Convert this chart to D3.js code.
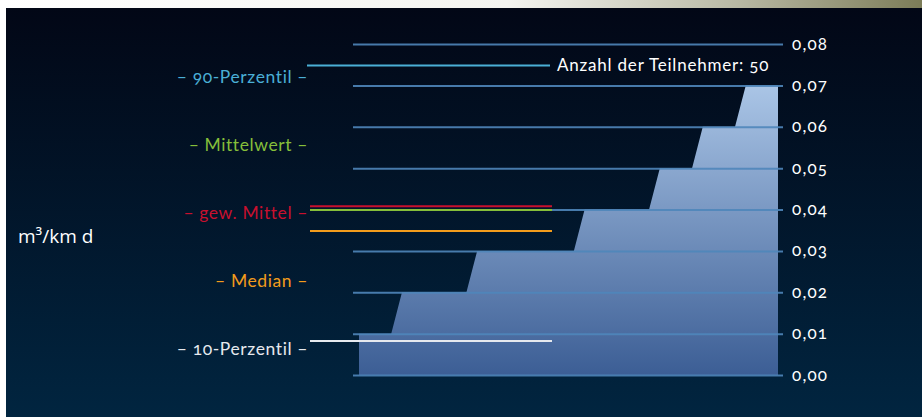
<!DOCTYPE html>
<html><head><meta charset="utf-8">
<script src="https://cdn.jsdelivr.net/npm/d3@7"></script>
<style>
html,body{margin:0;padding:0;background:#fff;overflow:hidden}
svg{display:block}
text{font-family:"Lato","Open Sans",sans-serif;font-variant-numeric:oldstyle-nums}
</style></head><body>
<svg id="c" width="922" height="417"></svg>
<script>
// sorted participant values (m³/km d)
const values = [0.01,0.01,0.01,0.01,
  0.02,0.02,0.02,0.02,0.02,0.02,0.02,
  0.03,0.03,0.03,0.03,0.03,0.03,0.03,0.03,0.03,0.03,
  0.04,0.04,0.04,0.04,0.04,0.04,0.04,
  0.05,0.05,0.05,0.05,
  0.06,0.06,0.06,0.06,
  0.07,0.07,0.07,0.07];
const yTicks = [0,0.01,0.02,0.03,0.04,0.05,0.06,0.07,0.08];
const statNames = ["90-Perzentil","Mittelwert","gew. Mittel","Median","10-Perzentil"];
const statValues = [0.0748,0.0399,0.0408,0.0348,0.0082];
const statColors = ["#4aafd6","#86bf3a","#c8102e","#f39c1c","#e6e9ee"];
const unitLabel = "m³/km d";
const countLabel = "Anzahl der Teilnehmer: 50";

const svg = d3.select("#c");
const defs = svg.append("defs");
const bg = defs.append("linearGradient").attr("id","bg").attr("x1",0).attr("y1",0).attr("x2",0).attr("y2",1);
bg.append("stop").attr("offset","0%").attr("stop-color","#020716");
bg.append("stop").attr("offset","100%").attr("stop-color","#012540");
const topbar = defs.append("linearGradient").attr("id","topbar").attr("x1",0).attr("y1",0).attr("x2",1).attr("y2",0);
topbar.append("stop").attr("offset","0%").attr("stop-color","#ffffff");
topbar.append("stop").attr("offset","55%").attr("stop-color","#f4f4f0");
topbar.append("stop").attr("offset","80%").attr("stop-color","#b9b9a4");
topbar.append("stop").attr("offset","100%").attr("stop-color","#7c7c58");
const ag = defs.append("linearGradient").attr("id","ag").attr("x1",0).attr("y1",0).attr("x2",0).attr("y2",1);
ag.append("stop").attr("offset","0%").attr("stop-color","#aac5e6");
ag.append("stop").attr("offset","100%").attr("stop-color","#3c5e95");

svg.append("rect").attr("x",0).attr("y",0).attr("width",922).attr("height",8).attr("fill","url(#topbar)");
svg.append("rect").attr("x",6).attr("y",8).attr("width",916).attr("height",409).attr("fill","url(#bg)");

const y = d3.scaleLinear().domain([0,0.08]).range([375,44]);
const x = d3.scaleLinear().domain([0,values.length-1]).range([359,778]);

// area
const area = d3.area().x((d,i)=>x(i)).y0(y(0)).y1(d=>y(d));
svg.append("path").datum(values).attr("d",area).attr("fill","url(#ag)");

// grid / axis
const axisX = 783, gridLeft = 353;
const axis = d3.axisRight(y).tickValues(yTicks).tickSize(-(axisX-gridLeft)).tickPadding(9)
  .tickFormat(d=>d3.format(".2f")(d).replace(".",","));
const ga = svg.append("g").attr("transform",`translate(${axisX},0)`).call(axis);
ga.select(".domain").remove();
ga.selectAll(".tick line").attr("stroke","#4f86ba").attr("stroke-width",2).attr("stroke-opacity",0.9);
ga.selectAll(".tick text").attr("fill","#ffffff").attr("font-size",17).attr("letter-spacing","1.2px").attr("dy","0.3em");

// stat lines
const statX = [[307,550],[310,552],[310,552],[310,552],[310,552]];
statValues.forEach((v,i)=>{
  svg.append("line").attr("x1",statX[i][0]).attr("x2",statX[i][1])
    .attr("y1",y(v)).attr("y2",y(v)).attr("stroke",statColors[i]).attr("stroke-width",2);
});

// stat labels
const labelTop = 77, labelStep = 68, labelRight = 308;
statNames.forEach((n,i)=>{
  svg.append("text").attr("x",labelRight).attr("y",labelTop+i*labelStep+6)
    .attr("text-anchor","end").attr("fill",statColors[i]).attr("font-size",17.5)
    .attr("letter-spacing","0.6px")
    .text("– "+n+" –");
});

svg.append("text").attr("x",18).attr("y",243).attr("fill","#ffffff").attr("font-size",19)
  .style("font-family","'Open Sans',sans-serif").text(unitLabel);
svg.append("text").attr("x",557).attr("y",71).attr("fill","#ffffff").attr("font-size",17)
  .attr("letter-spacing","0.8px").text(countLabel);
</script>
</body></html>
